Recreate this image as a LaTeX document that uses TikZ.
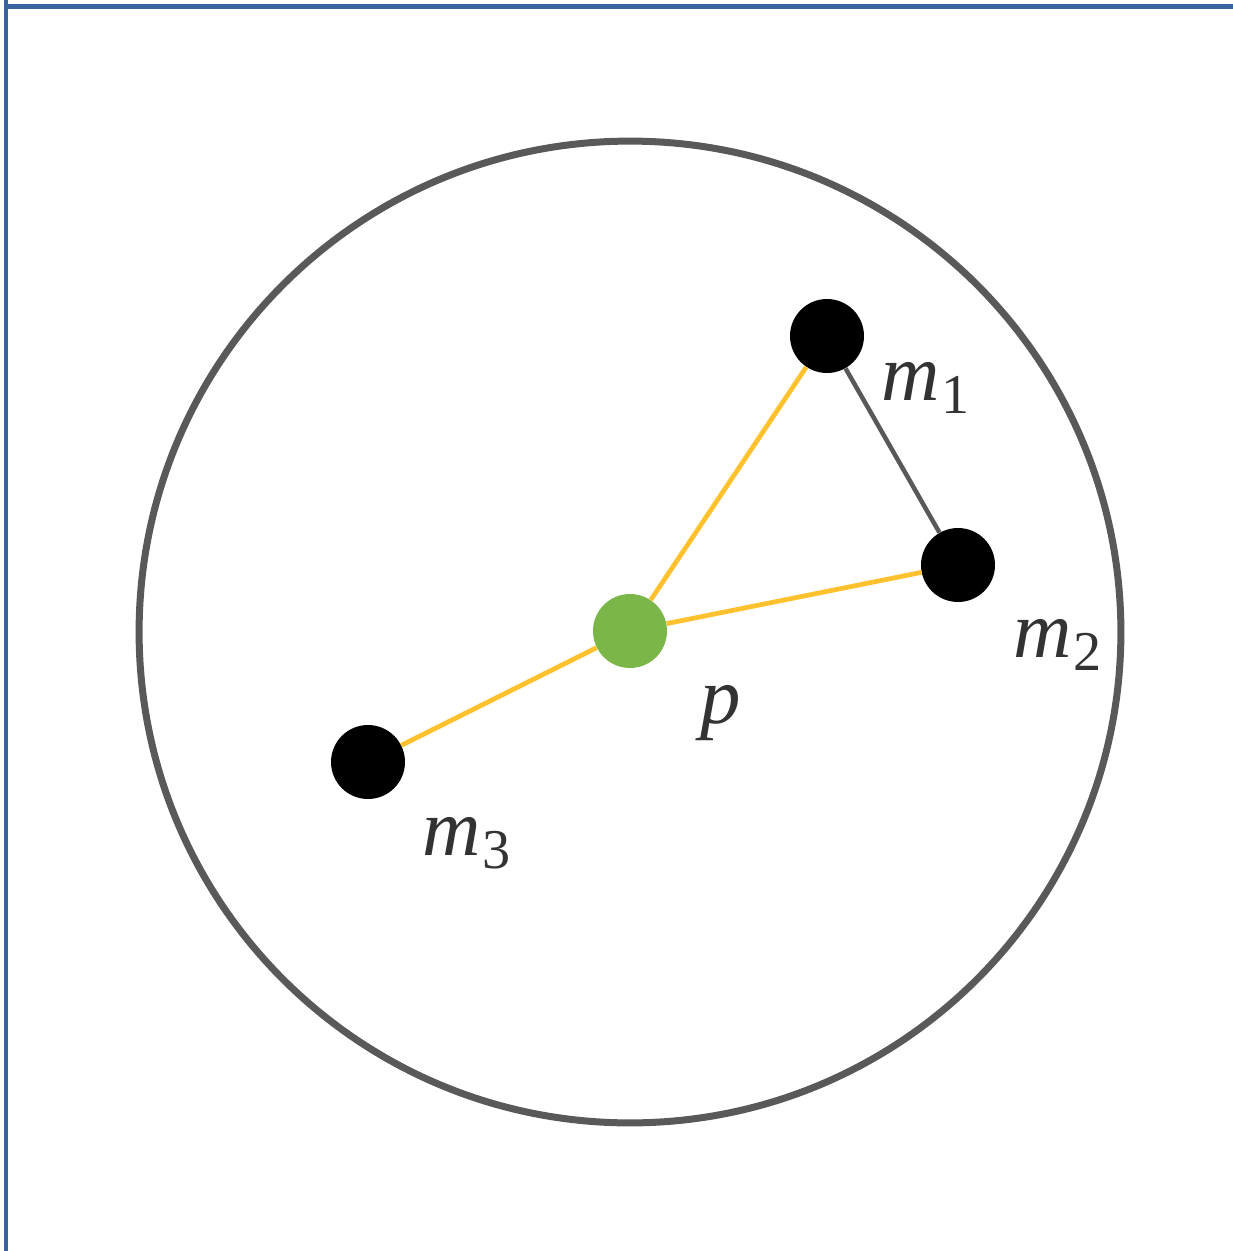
\documentclass[tikz,border=0pt]{standalone}
\usepackage{fontspec}
\setmainfont{Liberation Serif}
\usetikzlibrary{positioning}
\definecolor{FrameBlue}{HTML}{3A62A0}
\definecolor{RingGray}{HTML}{595959}
\definecolor{LinkGold}{HTML}{FFC12E}
\definecolor{PointGreen}{HTML}{7AB648}
\newcommand{\msub}[2]{\textit{#1}\kern0.04cm\raisebox{-0.26cm}{\fontsize{32}{38}\selectfont #2}}

\begin{document}
\begin{tikzpicture}[x=0.02cm, y=-0.02cm,
    mass/.style={circle, fill=black, minimum size=1.48cm, inner sep=0pt},
    centre/.style={circle, fill=PointGreen, minimum size=1.48cm, inner sep=0pt},
    link/.style={line width=0.095cm, color=LinkGold},
    tag/.style={anchor=base west, inner sep=0pt, font=\fontsize{46}{55}\selectfont, text=black!80}]
    \useasboundingbox (0,0) rectangle (1233,1251);
    % Frame
    \draw[line width=0.1cm, FrameBlue] (6,0) -- (6,1251);
    \draw[line width=0.09cm, FrameBlue] (6,6.5) -- (1233,6.5);

    \node[circle, draw=RingGray, line width=0.14cm, minimum size=19.64cm, inner sep=0pt] (ring) at (630,632) {};

    \node[mass] (m1) at (827,336) {};
    \node[mass] (m2) at (958,565) {};
    \node[mass] (m3) at (368,762) {};
    \node[centre] (p) at (630,631) {};

    \node[tag] (m1tag) at (881,400) {\msub{m}{1}};
    \node[tag] (m2tag) at (1013,657) {\msub{m}{2}};
    \node[tag] (m3tag) at (422,855) {\msub{m}{3}};
    \node[tag] (ptag) at (700,723) {\textit{p}};

    % Links
    \draw[link] (p) -- (m1);
    \draw[link] (p) -- (m2);
    \draw[link] (p) -- (m3);
    \draw[line width=0.09cm, color=RingGray] (m1) -- (m2);
\end{tikzpicture}
\end{document}
